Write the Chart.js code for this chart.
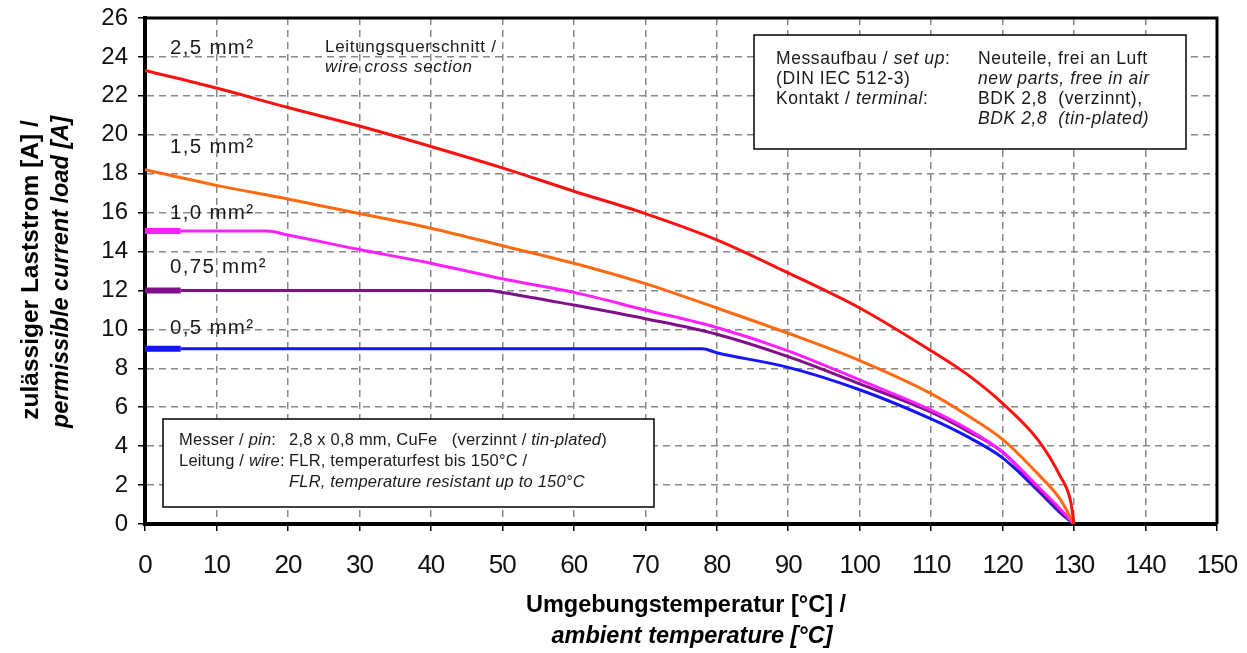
<!DOCTYPE html>
<html><head><meta charset="utf-8">
<script src="https://cdn.jsdelivr.net/npm/chart.js@4"></script>
<style>html,body{margin:0;padding:0;background:#fff}#wrap{width:1247px;height:653px;position:relative}</style>
</head><body><div id="wrap"><canvas id="c" width="1247" height="653"></canvas></div>
<script>
// ---- data ----
const xTickLabels = [0,10,20,30,40,50,60,70,80,90,100,110,120,130,140,150];
const yTickLabels = [0,2,4,6,8,10,12,14,16,18,20,22,24,26];
const seriesNames = ['2,5 mm²','1,5 mm²','1,0 mm²','0,75 mm²','0,5 mm²'];
const seriesColors = ['#ff1010','#ff6a10','#ff20ff','#80108a','#1414ff'];

const temp25 = [0,10,20,30,40,50,60,70,80,90,100,110,115,120,125,128,129.5,130];
const amp25  = [23.3,22.4,21.4,20.45,19.4,18.3,17.1,15.95,14.6,12.9,11.1,8.9,7.7,6.2,4.3,2.5,1.2,0];

const temp15 = [0,10,20,30,40,50,60,70,80,90,100,110,115,120,125,128,130];
const amp15  = [18.2,17.4,16.7,15.95,15.2,14.3,13.4,12.35,11.1,9.8,8.4,6.7,5.6,4.35,2.55,1.3,0];

const temp10 = [0,5,17,20,30,40,50,60,70,80,90,100,110,115,120,125,128,130];
const amp10  = [15.05,15.05,15.05,14.85,14.1,13.4,12.6,11.9,11.0,10.1,8.9,7.4,5.85,4.9,3.7,1.9,0.8,0];

const temp075 = [0,5,48,50,60,70,80,90,100,110,115,120,125,128,130];
const amp075  = [12,12,12,11.9,11.25,10.55,9.75,8.6,7.2,5.75,4.8,3.7,1.8,0.7,0];

const temp05 = [0,5,78,80,90,100,110,115,120,125,128,130];
const amp05  = [9,9,9,8.8,8.05,6.9,5.4,4.5,3.4,1.7,0.6,0];

const boxTopLeft  = ['Messaufbau / |set up|:', '(DIN IEC 512-3)', 'Kontakt / |terminal|:'];
const boxTopRight = ['Neuteile, frei an Luft', '|new parts, free in air|', 'BDK 2,8  (verzinnt),', '|BDK 2,8  (tin-plated)|'];
const boxBotLeft  = ['Messer / |pin|:', 'Leitung / |wire|:'];
const boxBotRight = ['2,8 x 0,8 mm, CuFe   (verzinnt / |tin-plated|)', 'FLR, temperaturfest bis 150°C /', '|FLR, temperature resistant up to 150°C|'];
const xTitle = ['Umgebungstemperatur [°C] /', 'ambient temperature [°C]'];
const yTitle = ['zulässiger Laststrom [A] /', 'permissible current load [A]'];
const wireNote = ['Leitungsquerschnitt /', '|wire cross section|'];

// ---- build datasets ----
function pts(xs, ys){ return xs.map((x,i)=>({x:x, y:ys[i]})); }
const allT = [temp25,temp15,temp10,temp075,temp05];
const allA = [amp25,amp15,amp10,amp075,amp05];
const thickStart = [false,false,true,true,true];
const datasets = allT.map((t,k)=>({
  label: seriesNames[k],
  data: pts(t, allA[k]),
  borderColor: seriesColors[k],
  borderWidth: 3,
  pointRadius: 0,
  cubicInterpolationMode: 'monotone',
  fill: false,
  segment: thickStart[k] ? { borderWidth: c => (c.p1.parsed.x <= 5 ? 6 : 3) } : undefined
}));

const FONT = "'Liberation Sans', Arial, sans-serif";
const TXT = '#1a1a1a';

function richText(ctx, str, x, y, size, spacing, bold){
  const parts = str.split('|');
  let cx = x;
  ctx.letterSpacing = (spacing || 0) + 'px';
  parts.forEach((p,i)=>{
    const it = i % 2 === 1;
    ctx.font = (it ? 'italic ' : '') + (bold ? 'bold ' : '') + size + 'px ' + FONT;
    ctx.fillText(p, cx, y);
    cx += ctx.measureText(p).width;
  });
  ctx.letterSpacing = '0px';
}

const decor = {
  id: 'decor',
  afterLayout(chart){
    const s = chart.scales.x;
    if (s && !s._narrowPatched) {
      const orig = s.drawLabels;
      s.drawLabels = function(area){
        const c = this.ctx; c.save(); c.letterSpacing = '-1px'; orig.call(this, area); c.restore();
      };
      s._narrowPatched = true;
    }
  },
  beforeDatasetsDraw(chart){
    const ctx = chart.ctx, a = chart.chartArea;
    ctx.save();
    ctx.strokeStyle = '#000'; ctx.lineWidth = 3;
    ctx.beginPath(); ctx.moveTo(a.left, a.top); ctx.lineTo(a.right, a.top); ctx.lineTo(a.right, a.bottom); ctx.stroke();
    ctx.lineWidth = 1.5; ctx.fillStyle = '#fff';
    ctx.fillRect(754,35,432,114); ctx.strokeRect(754,35,432,114);
    ctx.fillRect(163,419,491,88); ctx.strokeRect(163,419,491,88);
    ctx.fillStyle = TXT; ctx.textBaseline = 'middle'; ctx.textAlign = 'left';
    boxTopLeft.forEach((s,i)=>richText(ctx, s, 776, 59 + i*20, 17.5, 0.6));
    boxTopRight.forEach((s,i)=>richText(ctx, s, 978, 59 + i*20, 17.5, 0.6));
    boxBotLeft.forEach((s,i)=>richText(ctx, s, 179, 440 + i*21, 16.5, 0.2));
    boxBotRight.forEach((s,i)=>richText(ctx, s, 289, 440 + i*21, 16.5, 0.2));
    richText(ctx, wireNote[0], 325, 47, 17, 0.7);
    richText(ctx, wireNote[1], 325, 67, 17, 0.7);
    const xs = chart.scales.x, ys = chart.scales.y;
    const labY = [24.45, 19.37, 15.98, 13.2, 10.07];
    seriesNames.forEach((n,i)=>{
      richText(ctx, n, xs.getPixelForValue(3.5), ys.getPixelForValue(labY[i]), 20.5, 1.3);
    });
    ctx.restore();
  },
  afterDraw(chart){
    const ctx = chart.ctx;
    ctx.save();
    ctx.fillStyle = '#000'; ctx.textAlign = 'center'; ctx.textBaseline = 'middle';
    ctx.font = 'bold 23.5px ' + FONT; ctx.fillText(xTitle[0], 686, 606);
    ctx.font = 'italic bold 23.5px ' + FONT; ctx.fillText(xTitle[1], 692, 637);
    ctx.translate(31, 270); ctx.rotate(-Math.PI/2);
    ctx.font = 'bold 24.5px ' + FONT; ctx.fillText(yTitle[0], 0, 0);
    ctx.font = 'italic bold 23.5px ' + FONT; ctx.fillText(yTitle[1], -2, 31);
    ctx.restore();
  }
};

new Chart(document.getElementById('c'), {
  type: 'line',
  data: { datasets },
  plugins: [decor],
  options: {
    responsive: false,
    animation: false,
    devicePixelRatio: 1,
    layout: { padding: { top: 18, right: 30, left: 0, bottom: 0 } },
    plugins: { legend: { display: false }, tooltip: { enabled: false } },
    scales: {
      x: {
        type: 'linear', min: 0, max: 150,
        afterBuildTicks: s => { s.ticks = xTickLabels.map(v=>({value:v})); },
        ticks: { color: '#111', font: { size: 26, family: FONT }, padding: 19, maxRotation: 0, autoSkip: false },
        grid: { color: '#888', lineWidth: 1.5, tickLength: 7, tickColor: '#000', tickWidth: 1.5 },
        border: { display: true, color: '#000', width: 4, dash: [7,5] },
        afterFit: s => { s.height = 129; s.paddingLeft = 0; s.paddingRight = 0; s.paddingTop = 0; s.paddingBottom = 0; }
      },
      y: {
        type: 'linear', min: 0, max: 26,
        afterBuildTicks: s => { s.ticks = yTickLabels.map(v=>({value:v})); },
        ticks: { color: '#111', font: { size: 24, family: FONT }, padding: 10, autoSkip: false },
        grid: { color: '#888', lineWidth: 1.5, tickLength: 7, tickColor: '#000', tickWidth: 1.5 },
        border: { display: true, color: '#000', width: 4, dash: [7,5] },
        afterFit: s => { s.width = 145; s.paddingLeft = 0; s.paddingRight = 0; s.paddingTop = 0; s.paddingBottom = 0; }
      }
    }
  }
});
</script>
</body></html>
